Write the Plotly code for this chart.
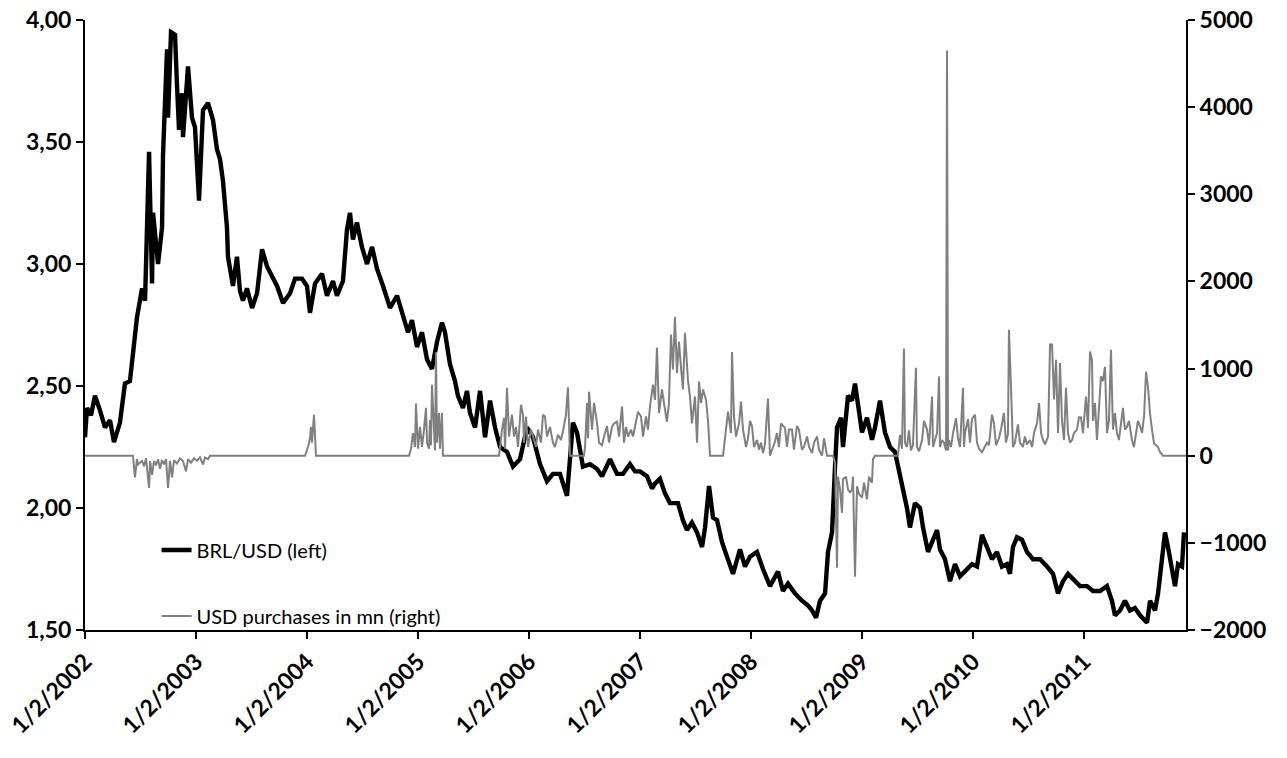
import plotly.graph_objects as go

# ---- data (x = years elapsed since 1/2/2002) ----
brl_t = [0.000, 0.018, 0.054, 0.090, 0.135, 0.180, 0.225, 0.261, 0.315, 0.360, 0.405, 0.432, 0.468, 0.514, 0.541,
         0.577, 0.604, 0.613, 0.640, 0.658, 0.694, 0.703, 0.739, 0.748, 0.775, 0.811, 0.829, 0.847, 0.874, 0.883,
         0.928, 0.964, 0.991, 1.027, 1.063, 1.108, 1.153, 1.189, 1.216, 1.243, 1.279, 1.288, 1.333, 1.369, 1.396,
         1.423, 1.459, 1.505, 1.550, 1.595, 1.640, 1.685, 1.730, 1.784, 1.847, 1.892, 1.955, 2.000, 2.027, 2.072,
         2.135, 2.180, 2.234, 2.270, 2.324, 2.360, 2.387, 2.414, 2.450, 2.495, 2.541, 2.586, 2.631, 2.685, 2.748,
         2.811, 2.865, 2.910, 2.946, 2.991, 3.036, 3.081, 3.126, 3.171, 3.216, 3.243, 3.288, 3.333, 3.360, 3.405,
         3.441, 3.468, 3.514, 3.559, 3.604, 3.649, 3.694, 3.739, 3.802, 3.856, 3.919, 3.982, 4.036, 4.099, 4.162,
         4.216, 4.279, 4.306, 4.342, 4.369, 4.396, 4.432, 4.459, 4.486, 4.550, 4.613, 4.658, 4.703, 4.730, 4.793,
         4.847, 4.910, 4.955, 5.000, 5.063, 5.108, 5.135, 5.180, 5.225, 5.270, 5.342, 5.387, 5.423, 5.468, 5.514,
         5.559, 5.586, 5.622, 5.658, 5.694, 5.739, 5.784, 5.838, 5.901, 5.946, 5.991, 6.054, 6.108, 6.171, 6.243,
         6.288, 6.333, 6.396, 6.459, 6.514, 6.550, 6.586, 6.622, 6.667, 6.694, 6.730, 6.757, 6.775, 6.811, 6.829,
         6.874, 6.910, 6.937, 6.964, 7.000, 7.045, 7.090, 7.117, 7.162, 7.207, 7.252, 7.297, 7.342, 7.369, 7.405,
         7.432, 7.477, 7.523, 7.550, 7.595, 7.640, 7.676, 7.703, 7.748, 7.793, 7.838, 7.883, 7.946, 7.991, 8.036,
         8.081, 8.126, 8.171, 8.216, 8.261, 8.306, 8.333, 8.360, 8.396, 8.441, 8.486, 8.541, 8.604, 8.667, 8.721,
         8.766, 8.811, 8.856, 8.901, 8.964, 9.027, 9.081, 9.144, 9.207, 9.252, 9.279, 9.324, 9.369, 9.414, 9.459,
         9.505, 9.568, 9.595, 9.640, 9.667, 9.703, 9.730, 9.757, 9.793, 9.820, 9.847, 9.883, 9.901]
brl_usd = [2.29, 2.41, 2.38, 2.46, 2.40, 2.33, 2.36, 2.27, 2.35, 2.51, 2.52, 2.65, 2.78, 2.90, 2.85,
           3.46, 2.92, 3.21, 3.10, 3.00, 3.15, 3.45, 3.88, 3.60, 3.95, 3.94, 3.73, 3.55, 3.70, 3.52,
           3.81, 3.60, 3.56, 3.26, 3.63, 3.66, 3.59, 3.47, 3.43, 3.34, 3.15, 3.03, 2.91, 3.03, 2.89,
           2.85, 2.90, 2.82, 2.88, 3.06, 2.99, 2.95, 2.91, 2.84, 2.88, 2.94, 2.94, 2.91, 2.80, 2.92,
           2.96, 2.87, 2.93, 2.87, 2.93, 3.14, 3.21, 3.10, 3.17, 3.07, 3.00, 3.07, 2.98, 2.91, 2.82,
           2.87, 2.78, 2.72, 2.77, 2.66, 2.72, 2.61, 2.57, 2.68, 2.76, 2.72, 2.59, 2.52, 2.46, 2.41,
           2.48, 2.39, 2.33, 2.48, 2.29, 2.44, 2.33, 2.25, 2.23, 2.17, 2.20, 2.33, 2.29, 2.18, 2.11,
           2.14, 2.14, 2.10, 2.05, 2.20, 2.35, 2.31, 2.25, 2.17, 2.18, 2.16, 2.13, 2.17, 2.20, 2.14,
           2.14, 2.18, 2.15, 2.15, 2.13, 2.08, 2.10, 2.12, 2.06, 2.02, 2.02, 1.95, 1.91, 1.94, 1.90,
           1.84, 1.92, 2.09, 1.96, 1.95, 1.86, 1.80, 1.73, 1.83, 1.76, 1.80, 1.82, 1.75, 1.68, 1.74,
           1.66, 1.69, 1.65, 1.62, 1.60, 1.58, 1.55, 1.62, 1.65, 1.82, 1.90, 2.17, 2.33, 2.37, 2.25,
           2.46, 2.44, 2.51, 2.41, 2.31, 2.37, 2.28, 2.33, 2.44, 2.31, 2.25, 2.23, 2.14, 2.09, 2.00,
           1.92, 2.02, 2.00, 1.92, 1.82, 1.87, 1.91, 1.83, 1.79, 1.70, 1.77, 1.72, 1.75, 1.77, 1.76,
           1.89, 1.84, 1.79, 1.82, 1.76, 1.77, 1.73, 1.84, 1.88, 1.87, 1.82, 1.79, 1.79, 1.76, 1.73,
           1.65, 1.70, 1.73, 1.71, 1.68, 1.68, 1.66, 1.66, 1.68, 1.62, 1.56, 1.58, 1.62, 1.58, 1.59,
           1.56, 1.53, 1.62, 1.58, 1.65, 1.79, 1.90, 1.84, 1.76, 1.68, 1.77, 1.76, 1.90]

usd_t = [0.000, 0.432, 0.450, 0.468, 0.477, 0.495, 0.514, 0.532, 0.550, 0.577, 0.586, 0.604, 0.622, 0.640, 0.658,
         0.676, 0.694, 0.712, 0.730, 0.748, 0.766, 0.784, 0.802, 0.829, 0.856, 0.883, 0.910, 0.928, 0.955, 0.982,
         1.009, 1.036, 1.063, 1.081, 1.108, 1.126,
         1.982, 2.009, 2.027, 2.036, 2.045, 2.063, 2.081,
         2.919, 2.937, 2.955, 2.973, 2.982, 2.991, 3.000, 3.018, 3.036, 3.054, 3.072, 3.081, 3.099, 3.108, 3.117,
         3.126, 3.144, 3.153, 3.162, 3.171, 3.189, 3.198, 3.207, 3.216, 3.225,
         3.730, 3.757, 3.775, 3.784, 3.802, 3.820, 3.847, 3.865, 3.883, 3.901, 3.928, 3.946, 3.955, 3.973, 3.991,
         4.018, 4.036, 4.063, 4.081, 4.108, 4.126, 4.144, 4.162, 4.189, 4.216, 4.234, 4.261, 4.288, 4.306, 4.333,
         4.351, 4.369,
         4.495, 4.505, 4.523, 4.532, 4.541, 4.568, 4.586, 4.613, 4.631, 4.658, 4.676, 4.703, 4.721, 4.748, 4.766,
         4.793, 4.811, 4.838, 4.856, 4.874, 4.892, 4.919, 4.937, 4.964, 4.982, 5.009, 5.027, 5.054, 5.072, 5.090,
         5.117, 5.135, 5.153, 5.171, 5.198, 5.216, 5.243, 5.261, 5.279, 5.297, 5.315, 5.333, 5.351, 5.369, 5.387,
         5.405, 5.432, 5.450, 5.468, 5.495, 5.514, 5.532, 5.550, 5.568, 5.595, 5.613, 5.631,
         5.748, 5.766, 5.793, 5.820, 5.829, 5.847, 5.865, 5.883, 5.892, 5.910, 5.928, 5.955, 5.973, 5.991, 6.009,
         6.027, 6.054, 6.072, 6.090, 6.108, 6.126, 6.153, 6.171, 6.198, 6.216, 6.234, 6.252, 6.270, 6.288, 6.306,
         6.324, 6.342, 6.369, 6.387, 6.414, 6.432, 6.459, 6.477, 6.505, 6.523, 6.550, 6.568, 6.595, 6.613, 6.640,
         6.658, 6.685,
         6.739, 6.757, 6.775, 6.784, 6.802, 6.820, 6.829, 6.856, 6.874, 6.892, 6.910, 6.919, 6.937, 6.955, 6.973,
         7.000, 7.018, 7.045, 7.063, 7.090, 7.099, 7.117,
         7.324, 7.342, 7.360, 7.378, 7.387, 7.405, 7.423, 7.441, 7.459, 7.486, 7.495, 7.514, 7.541, 7.559, 7.586,
         7.604, 7.631, 7.640, 7.676, 7.694, 7.703, 7.721, 7.739, 7.757, 7.766, 7.775, 7.784, 7.802, 7.820, 7.847,
         7.865, 7.883, 7.910, 7.919, 7.928, 7.955, 7.973, 7.991, 8.018, 8.036, 8.054, 8.081, 8.099, 8.126, 8.144,
         8.171, 8.189, 8.207, 8.234, 8.252, 8.279, 8.297, 8.315, 8.324, 8.342, 8.360, 8.378, 8.405, 8.423, 8.450,
         8.468, 8.486, 8.514, 8.532, 8.550, 8.577, 8.595, 8.613, 8.631, 8.649, 8.676, 8.694, 8.712, 8.730, 8.748,
         8.766, 8.784, 8.802, 8.820, 8.838, 8.856, 8.874, 8.892, 8.910, 8.937, 8.955, 8.973, 8.991, 9.018, 9.036,
         9.054, 9.072, 9.081, 9.099, 9.117, 9.135, 9.153, 9.171, 9.189, 9.207, 9.225, 9.243, 9.261, 9.279, 9.297,
         9.315, 9.333, 9.351, 9.369, 9.387, 9.405, 9.432, 9.450, 9.468, 9.486, 9.505, 9.523, 9.541, 9.559, 9.577,
         9.595, 9.613, 9.631, 9.649, 9.667, 9.685, 9.712, 9.919]
usd_purchases = [0, 0, -250, -40, -100, -80, -60, -120, -30, -370, -60, -220, -60, -110, -40,
                 -150, -50, -100, -40, -370, -60, -250, -50, -90, -30, -60, -180, -40, -80, -30,
                 -60, -20, -100, -20, -40, 0,
                 0, 100, 200, 330, 150, 470, 0,
                 0, 80, 260, 100, 600, 260, 80, 330, 100, 300, 550, 150, 80, 410, 120,
                 815, 260, 60, 1190, 150, 490, 80, 300, 490, 0,
                 0, 300, 435, 80, 780, 220, 470, 220, 330, 100, 585, 470, 150, 450, 100,
                 300, 220, 100, 300, 150, 470, 450, 220, 330, 150, 100, 240, 180, 280, 470,
                 785, 0,
                 0, 100, 605, 200, 735, 300, 605, 370, 150, 120, 220, 340, 150, 330, 370,
                 390, 220, 565, 150, 330, 220, 300, 220, 370, 505, 450, 220, 450, 300, 565,
                 815, 640, 1240, 490, 760, 605, 390, 605, 1390, 990, 1595, 950, 1310, 1020, 760,
                 1410, 870, 680, 370, 680, 150, 850, 605, 760, 640, 400, 0,
                 0, 220, 505, 260, 1190, 450, 220, 320, 370, 620, 300, 100, 200, 400, 340,
                 100, 180, 70, 150, 30, 130, 655, 0, 100, 160, 260, 100, 370, 340, 320,
                 100, 300, 300, 70, 340, 300, 70, 100, 220, 100, 30, 150, 220, 70, 0,
                 200, 0,
                 0, -80, -1285, -240, -390, -655, -270, -240, -390, -420, -390, -240, -1390, -350, -440,
                 -480, -310, -500, -240, -310, -40, 0,
                 0, 240, 80, 1230, 150, 100, 290, 60, 120, 1010, 100, 50, 180, 400, 300,
                 120, 680, 100, 260, 910, 100, 180, 150, 60, 4650, 60, 180, 100, 260, 430,
                 200, 100, 780, 100, 260, 420, 150, 420, 470, 150, 80, 40, 80, 150, 120,
                 470, 375, 120, 200, 300, 490, 150, 250, 1445, 800, 100, 150, 360, 150, 100,
                 220, 130, 180, 100, 260, 375, 605, 260, 180, 130, 220, 1275, 1275, 645, 1100,
                 260, 1065, 400, 180, 780, 260, 150, 180, 260, 300, 440, 440, 260, 680, 320,
                 1195, 1100, 400, 605, 180, 530, 910, 855, 1020, 260, 400, 1215, 300, 490, 260,
                 180, 400, 550, 300, 330, 400, 180, 100, 260, 400, 340, 260, 450, 965, 780,
                 480, 300, 140, 120, 100, 40, 0, 0]

tick_years = [2002, 2003, 2004, 2005, 2006, 2007, 2008, 2009, 2010, 2011]
tick_labels = ["1/2/2002", "1/2/2003", "1/2/2004", "1/2/2005", "1/2/2006",
               "1/2/2007", "1/2/2008", "1/2/2009", "1/2/2010", "1/2/2011"]
start_year = 2002
end_offset = 9.919

FONT = "Lato"

fig = go.Figure()
fig.add_trace(go.Scatter(
    x=[start_year + t for t in brl_t], y=brl_usd, mode="lines",
    name="BRL/USD (left)", line=dict(color="#000000", width=4.4),
    legendgroup="a", yaxis="y"))
fig.add_trace(go.Scatter(
    x=[start_year + t for t in usd_t], y=usd_purchases, mode="lines",
    name="USD purchases in mn (right)", line=dict(color="#808080", width=2),
    legendgroup="b", yaxis="y2"))

tickfont = dict(family=FONT, size=23, color="#000000", weight="bold")
axis_common = dict(showgrid=False, zeroline=False, showline=True, linecolor="#000000",
                   linewidth=2, ticks="outside", ticklen=7, tickwidth=1.5,
                   tickcolor="#000000", tickfont=tickfont, automargin=False,
                   ticklabeloverflow="allow")

fig.update_layout(
    width=1287, height=758,
    margin=dict(l=85, r=101, t=20, b=128),
    paper_bgcolor="white", plot_bgcolor="white",
    separators=",.",
    showlegend=True,
    legend=dict(x=0.065, y=0.163, xanchor="left", yanchor="top",
                font=dict(family=FONT, size=20, color="#000000"),
                bgcolor="rgba(0,0,0,0)", tracegroupgap=37, itemwidth=30),
    xaxis=dict(range=[start_year, start_year + end_offset], tickmode="array",
               tickvals=tick_years, ticktext=tick_labels, tickangle=-45, **axis_common),
    yaxis=dict(range=[1.5, 4.0], tickmode="linear", tick0=1.5, dtick=0.5,
               tickformat=".2f", **axis_common),
    yaxis2=dict(range=[-2000, 5000], tickmode="linear", tick0=-2000, dtick=1000,
                tickformat="d", overlaying="y", side="right", **axis_common),
)

# remove the default page margin so the figure fills the window exactly
fig.write_html("out.html", config={"displayModeBar": False},
               post_script="document.body.style.margin='0';document.body.style.overflow='hidden';")
